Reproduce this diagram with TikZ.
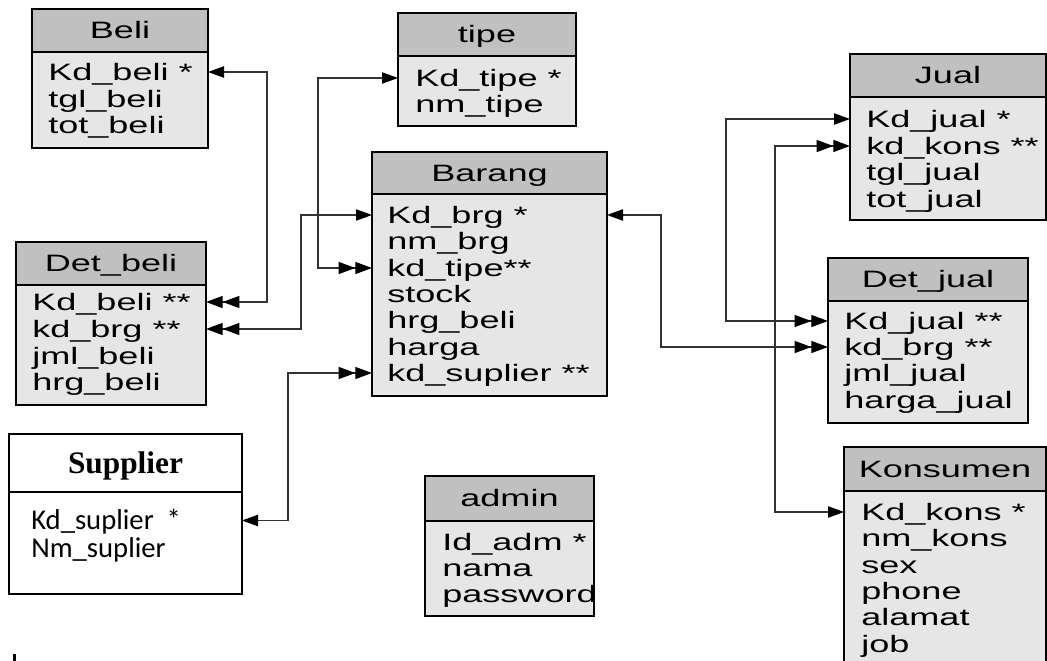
\documentclass[tikz,border=0pt]{standalone}
\usepackage{fontspec}
\newfontfamily\arialw[FakeStretch=1.52]{Liberation Sans}
\newfontfamily\calib{Carlito}
\newfontfamily\timesf{Liberation Serif}
\usetikzlibrary{arrows.meta}
\definecolor{hdrgray}{RGB}{192,192,192}
\definecolor{bodygray}{RGB}{230,230,230}
\definecolor{lncol}{RGB}{50,50,50}
\tikzset{
  afont/.style={font=\arialw\fontsize{17.8pt}{20pt}\selectfont, text height=12.7pt, text depth=0pt},
  hdrbox/.style={draw=black, line width=1.5pt, fill=hdrgray, inner sep=0pt, outer sep=0pt, afont},
  bodybox/.style={draw=black, line width=1.5pt, fill=bodygray, inner sep=0pt, outer sep=0pt},
  row/.style={inner sep=0pt, anchor=west, afont},
  supbox/.style={draw=black, line width=1.2pt, fill=white, inner sep=0pt, outer sep=0pt},
  suptitle/.style={font=\timesf\bfseries\fontsize{23.5pt}{26pt}\selectfont, text height=15.6pt, text depth=0pt},
  suprow/.style={inner sep=0pt, anchor=west, font=\calib\fontsize{21.5pt}{24pt}\selectfont, text height=13.8pt, text depth=0pt},
  conn/.style={draw=lncol, line width=0.8pt},
  tipone/.tip={Triangle[length=12pt,width=8.5pt,color=black]},
  tiptwo/.tip={Triangle[length=12.5pt,width=9pt,color=black]Triangle[length=12.5pt,width=9pt,color=black]},
}
% name, x left, y top, x right, y header bottom, y bottom, title
\newcommand\entbox[7]{%
  \node[bodybox, anchor=north west, minimum width={(#4-#2)*0.75pt}, minimum height={(#6-#5)*0.75pt}] (#1) at (#2,#5) {};
  \node[hdrbox, anchor=north west, minimum width={(#4-#2)*0.75pt}, minimum height={(#5-#3)*0.75pt}] (#1-h) at (#2,#3) {#7};
}
\begin{document}
\begin{tikzpicture}[x=0.75pt, y=-0.75pt]
\useasboundingbox (0,0) rectangle (1047,661);

% ---------- tables ----------
\entbox{beli}{32}{9}{208}{52}{148}{Beli}
\node[row] (beli-1) at (48,72) {Kd\_beli *};
\node[row] (beli-2) at (48,99) {tgl\_beli};
\node[row] (beli-3) at (48,125) {tot\_beli};

\entbox{tipe}{398}{13}{576}{56}{126}{tipe}
\node[row] (tipe-1) at (415,78) {Kd\_tipe *};
\node[row] (tipe-2) at (415,104) {nm\_tipe};

\entbox{brg}{372}{152}{607}{194}{396}{Barang}
\node[row] (brg-1) at (387,215) {Kd\_brg *};
\node[row] (brg-2) at (387,241.5) {nm\_brg};
\node[row] (brg-3) at (387,268) {kd\_tipe**};
\node[row] (brg-4) at (387,294) {stock};
\node[row] (brg-5) at (387,320.5) {hrg\_beli};
\node[row] (brg-6) at (387,347) {harga};
\node[row] (brg-7) at (387,373) {kd\_suplier **};

\entbox{db}{16}{242}{206}{285}{405}{Det\_beli}
\node[row] (db-1) at (32,302) {Kd\_beli **};
\node[row] (db-2) at (32,329) {kd\_brg **};
\node[row] (db-3) at (32,356) {jml\_beli};
\node[row] (db-4) at (32,382) {hrg\_beli};

\entbox{jual}{850}{54}{1046}{97}{220}{Jual}
\node[row] (jual-1) at (866,119) {Kd\_jual *};
\node[row] (jual-2) at (866,146) {kd\_kons **};
\node[row] (jual-3) at (866,172.5) {tgl\_jual};
\node[row] (jual-4) at (866,199) {tot\_jual};

\entbox{dj}{828}{258}{1028}{301}{423}{Det\_jual}
\node[row] (dj-1) at (844,321) {Kd\_jual **};
\node[row] (dj-2) at (844,347) {kd\_brg **};
\node[row] (dj-3) at (844,373.5) {jml\_jual};
\node[row] (dj-4) at (844,400) {harga\_jual};

\entbox{kons}{844}{447}{1046}{491}{672}{Konsumen}
\node[row] (kons-1) at (861,512) {Kd\_kons *};
\node[row] (kons-2) at (861,538.5) {nm\_kons};
\node[row] (kons-3) at (861,565) {sex};
\node[row] (kons-4) at (861,591) {phone};
\node[row] (kons-5) at (861,617.5) {alamat};
\node[row] (kons-6) at (861,644) {job};

\entbox{adm}{425}{476}{594}{521}{616}{admin}
\node[row] (adm-1) at (442,542) {Id\_adm *};
\node[row] (adm-2) at (442,568) {nama};
\node[row] (adm-3) at (442,594) {password};

% Supplier
\node[supbox, anchor=north west, minimum width={233*0.75pt}, minimum height={102*0.75pt}] (sup) at (9,492) {};
\node[supbox, anchor=north west, minimum width={233*0.75pt}, minimum height={58*0.75pt}, suptitle] (sup-h) at (9,434) {Supplier};
\node[suprow] (sup-1) at (31,520.5) {Kd\_suplier\ \ *};
\node[suprow] (sup-2) at (31,548) {Nm\_suplier};

% ---------- junction columns ----------
\coordinate (j1) at (267,0);
\coordinate (j2) at (318,0);
\coordinate (j3) at (301,0);
\coordinate (j4) at (288,0);
\coordinate (j5) at (661,0);
\coordinate (j6) at (726,0);
\coordinate (j7) at (775,0);

% ---------- connectors ----------
\draw[conn, tipone-tiptwo] (beli.east |- beli-1) -- (j1 |- beli-1) -- (j1 |- db-1) -- (db.east |- db-1);
\draw[conn, tipone-tiptwo] (tipe.west |- tipe-1) -- (j2 |- tipe-1) -- (j2 |- brg-3) -- (brg.west |- brg-3);
\draw[conn, tipone-tiptwo] (brg.west |- brg-1) -- (j3 |- brg-1) -- (j3 |- db-2) -- (db.east |- db-2);
\draw[conn, tipone-tiptwo] (sup.east |- sup-1) -- (j4 |- sup-1) -- (j4 |- brg-7) -- (brg.west |- brg-7);
\draw[conn, tipone-tiptwo] (brg.east |- brg-1) -- (j5 |- brg-1) -- (j5 |- dj-2) -- (dj.west |- dj-2);
\draw[conn, tipone-tiptwo] (jual.west |- jual-1) -- (j6 |- jual-1) -- (j6 |- dj-1) -- (dj.west |- dj-1);
\draw[conn, tipone-tiptwo] (kons.west |- kons-1) -- (j7 |- kons-1) -- (j7 |- jual-2) -- (jual.west |- jual-2);

% stray mark bottom left
\fill (13,654) rectangle (16,661);
\end{tikzpicture}
\end{document}
